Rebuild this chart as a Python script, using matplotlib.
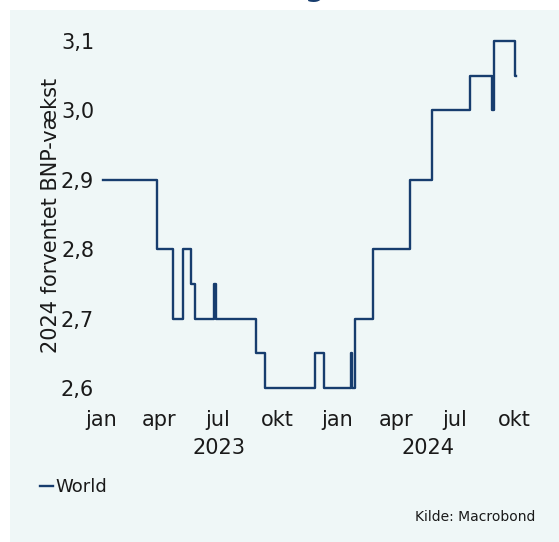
import pandas as pd
import matplotlib.pyplot as plt
import matplotlib.dates as mdates
from matplotlib.patches import Rectangle
from matplotlib.ticker import FuncFormatter

# Data: 2024 GDP growth consensus (World), step changes
change_dates = [
    "2023-01-04", "2023-03-28", "2023-04-22", "2023-05-07", "2023-05-20",
    "2023-05-26", "2023-06-25", "2023-06-28", "2023-08-28", "2023-09-11",
    "2023-11-28", "2023-12-11", "2024-01-22", "2024-01-24", "2024-01-28",
    "2024-02-26", "2024-04-22", "2024-05-27", "2024-07-24", "2024-08-28",
    "2024-08-30", "2024-10-02", "2024-10-03",
]
world_values = [
    2.9, 2.8, 2.7, 2.8, 2.75,
    2.7, 2.75, 2.7, 2.65, 2.6,
    2.65, 2.6, 2.65, 2.6, 2.7,
    2.8, 2.9, 3.0, 3.05, 3.0,
    3.1, 3.05, 3.05,
]
month_ticks = ["2023-01-01", "2023-04-01", "2023-07-01", "2023-10-01",
               "2024-01-01", "2024-04-01", "2024-07-01", "2024-10-01"]
month_labels = ["jan", "apr", "jul", "okt", "jan", "apr", "jul", "okt"]
y_ticks = [2.6, 2.7, 2.8, 2.9, 3.0, 3.1]

LINE_COLOR = "#173d6e"
BG_COLOR = "#eff7f7"
TEXT_COLOR = "#1a1a1a"

plt.rcParams["font.family"] = ["DejaVu Sans"]

W, H = 559, 542
fig = plt.figure(figsize=(W / 100, H / 100), dpi=100, facecolor="white")

# mint panel
fig.patches.append(Rectangle((10 / W, 0), 1, (H - 10) / H, transform=fig.transFigure,
                             facecolor=BG_COLOR, edgecolor="none", zorder=-10))

# cut-off title glyph at the very top
fig.text(315 / W, 1 + 3.5 / H, "g", ha="center", va="baseline", fontsize=20,
         fontweight="bold", color=LINE_COLOR)

x_start = pd.Timestamp("2023-01-01")
x_end = pd.Timestamp("2024-10-08")
ax = fig.add_axes([101 / W, (H - 395) / H, (519 - 101) / W, (395 - 30.6) / H])
ax.set_facecolor("none")

dates = pd.to_datetime(change_dates)
ax.plot(dates, world_values, drawstyle="steps-post", color=LINE_COLOR, lw=1.7,
        label="World")

ax.set_xlim(x_start, x_end)
ax.set_ylim(2.59, 3.115)
for s in ax.spines.values():
    s.set_visible(False)

ax.set_yticks(y_ticks)
ax.yaxis.set_major_formatter(FuncFormatter(lambda v, p: f"{v:.1f}".replace(".", ",")))
ax.set_xticks(pd.to_datetime(month_ticks))
ax.set_xticklabels(month_labels)
ax.tick_params(axis="both", length=0, labelsize=15, colors=TEXT_COLOR)
ax.tick_params(axis="x", pad=11)
ax.tick_params(axis="y", pad=5)

# year labels centred over the visible part of each year
for yr in [2023, 2024]:
    a = max(pd.Timestamp(f"{yr}-01-01"), x_start)
    b = min(pd.Timestamp(f"{yr + 1}-01-01"), x_end)
    mid = a + (b - a) / 2
    ax.text(mdates.date2num(mid), -0.145, str(yr), transform=ax.get_xaxis_transform(),
            ha="center", va="center", fontsize=15, color=TEXT_COLOR)

fig.text(51 / W, (H - 215) / H, "2024 forventet BNP-vækst", rotation=90,
         ha="center", va="center", fontsize=15, color=TEXT_COLOR)

fig.legend(loc="center left", bbox_to_anchor=(40 / W, (H - 487) / H), frameon=False,
           fontsize=13, handlelength=0.7, handletextpad=0.15, borderpad=0,
           borderaxespad=0, labelcolor=TEXT_COLOR)

fig.text(535 / W, (H - 517) / H, "Kilde: Macrobond", ha="right", va="center",
         fontsize=10, color=TEXT_COLOR)

fig.savefig("out.png", dpi=100)
